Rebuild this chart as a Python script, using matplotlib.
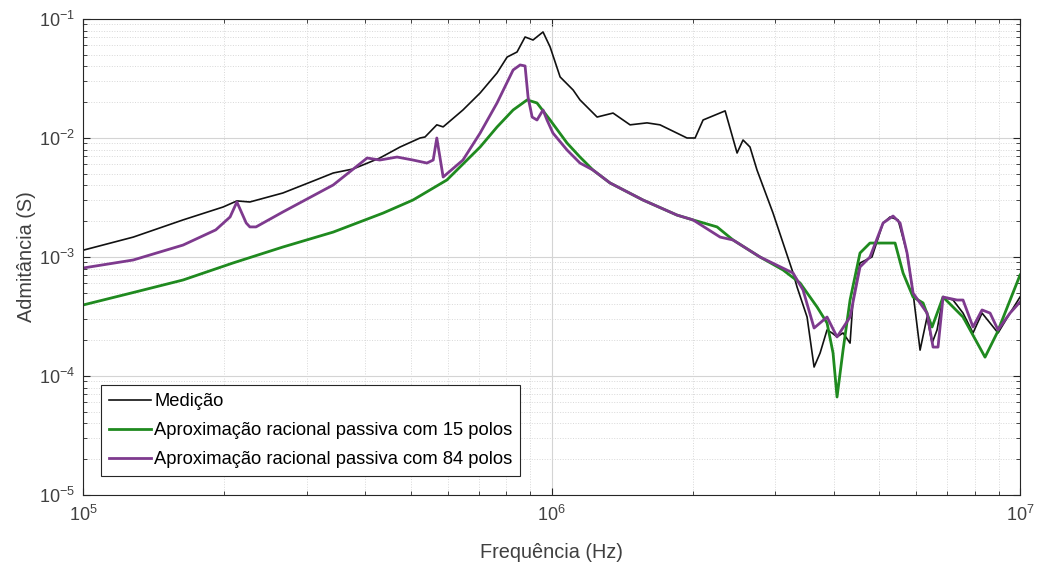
import matplotlib
matplotlib.use("Agg")
import matplotlib.pyplot as plt
from matplotlib.ticker import LogLocator, NullFormatter

plt.rcParams['font.family'] = ['Liberation Sans', 'DejaVu Sans']
plt.rcParams['mathtext.fontset'] = 'custom'
plt.rcParams['mathtext.rm'] = 'Liberation Sans'

# Measured admittance
freq_med = [1.00e5, 1.28e5, 1.635e5, 1.99e5, 2.13e5, 2.27e5, 2.67e5, 3.14e5, 3.42e5, 3.77e5,
            4.30e5, 4.75e5, 5.24e5, 5.37e5, 5.69e5, 5.87e5, 6.47e5, 7.04e5, 7.65e5, 8.04e5,
            8.44e5, 8.78e5, 9.13e5, 9.59e5, 9.93e5, 1.043e6, 1.112e6, 1.150e6, 1.251e6, 1.353e6,
            1.471e6, 1.599e6, 1.704e6, 1.946e6, 2.025e6, 2.106e6, 2.347e6, 2.489e6, 2.563e6, 2.652e6,
            2.745e6, 2.970e6, 3.278e6, 3.342e6, 3.511e6, 3.634e6, 3.743e6, 3.873e6, 3.969e6, 4.068e6,
            4.190e6, 4.337e6, 4.401e6, 4.554e6, 4.830e6, 5.101e6, 5.279e6, 5.491e6, 5.739e6, 5.911e6,
            6.118e6, 6.332e6, 6.490e6, 6.651e6, 6.850e6, 7.194e6, 7.556e6, 7.937e6, 8.296e6, 8.975e6,
            9.52e6, 1.0e7]
adm_med = [1.14e-3, 1.47e-3, 2.05e-3, 2.63e-3, 2.96e-3, 2.90e-3, 3.45e-3, 4.44e-3, 5.08e-3, 5.49e-3,
           6.79e-3, 8.40e-3, 0.0100, 0.0102, 0.0129, 0.0124, 0.0172, 0.0239, 0.0352, 0.0479,
           0.0528, 0.0706, 0.0666, 0.0778, 0.0582, 0.0326, 0.0253, 0.0209, 0.0150, 0.0162,
           0.0129, 0.0134, 0.0129, 0.0100, 0.0100, 0.01417, 0.0169, 0.00748, 0.00962, 0.0084,
           0.00538, 0.00234, 7.33e-4, 5.60e-4, 3.13e-4, 1.19e-4, 1.56e-4, 2.44e-4, 2.30e-4, 2.13e-4,
           2.30e-4, 1.89e-4, 4.35e-4, 8.91e-4, 1.00e-3, 1.93e-3, 2.17e-3, 2.05e-3, 1.08e-3, 4.98e-4,
           1.65e-4, 3.13e-4, 1.89e-4, 2.44e-4, 4.61e-4, 4.35e-4, 3.38e-4, 2.30e-4, 3.38e-4, 2.30e-4,
           3.38e-4, 4.61e-4]

# Passive rational fit, 15 poles
freq_15 = [1.00e5, 1.28e5, 1.635e5, 2.09e5, 2.67e5, 3.42e5, 4.37e5, 5.06e5, 5.98e5, 7.04e5,
           7.65e5, 8.28e5, 8.87e5, 9.31e5, 9.93e5, 1.079e6, 1.150e6, 1.226e6, 1.333e6, 1.568e6,
           1.853e6, 2.004e6, 2.256e6, 2.440e6, 2.786e6, 3.120e6, 3.392e6, 3.688e6, 3.873e6, 3.989e6,
           4.068e6, 4.190e6, 4.337e6, 4.554e6, 4.783e6, 5.101e6, 5.411e6, 5.628e6, 5.911e6, 6.209e6,
           6.490e6, 6.850e6, 7.556e6, 8.419e6, 8.932e6, 1.0e7]
adm_15 = [3.95e-4, 5.03e-4, 6.41e-4, 8.91e-4, 1.213e-3, 1.62e-3, 2.34e-3, 3.01e-3, 4.44e-3, 8.40e-3,
          0.01237, 0.0172, 0.0209, 0.0197, 0.01416, 9.08e-3, 6.92e-3, 5.38e-3, 4.19e-3, 3.01e-3,
          2.25e-3, 2.05e-3, 1.79e-3, 1.39e-3, 1.00e-3, 7.78e-4, 6.05e-4, 3.80e-4, 2.79e-4, 1.56e-4,
          6.66e-5, 1.65e-4, 4.35e-4, 1.08e-3, 1.31e-3, 1.31e-3, 1.31e-3, 7.33e-4, 4.61e-4, 4.11e-4,
          2.58e-4, 4.61e-4, 3.13e-4, 1.44e-4, 2.30e-4, 7.06e-4]

# Passive rational fit, 84 poles
freq_84 = [1.00e5, 1.28e5, 1.635e5, 1.92e5, 2.06e5, 2.13e5, 2.23e5, 2.27e5, 2.34e5, 2.67e5,
           3.42e5, 4.04e5, 4.30e5, 4.68e5, 5.06e5, 5.42e5, 5.59e5, 5.69e5, 5.87e5, 6.47e5,
           7.04e5, 7.65e5, 8.28e5, 8.57e5, 8.78e5, 8.91e5, 9.09e5, 9.31e5, 9.59e5, 9.78e5,
           1.007e6, 1.079e6, 1.150e6, 1.226e6, 1.333e6, 1.568e6, 1.853e6, 2.004e6, 2.290e6, 2.440e6,
           2.786e6, 3.278e6, 3.442e6, 3.634e6, 3.873e6, 4.068e6, 4.337e6, 4.554e6, 4.783e6, 5.101e6,
           5.357e6, 5.546e6, 5.739e6, 5.911e6, 6.332e6, 6.521e6, 6.683e6, 6.850e6, 7.337e6, 7.556e6,
           7.937e6, 8.296e6, 8.630e6, 8.975e6, 9.52e6, 1.0e7]
adm_84 = [8.08e-4, 9.44e-4, 1.26e-3, 1.69e-3, 2.17e-3, 2.90e-3, 1.93e-3, 1.79e-3, 1.79e-3, 2.39e-3,
          4.03e-3, 6.79e-3, 6.53e-3, 6.92e-3, 6.53e-3, 6.16e-3, 6.53e-3, 0.0100, 4.70e-3, 6.53e-3,
          0.0110, 0.0197, 0.0373, 0.0411, 0.0403, 0.0221, 0.0150, 0.01416, 0.0172, 0.01416,
          0.0110, 7.93e-3, 6.16e-3, 5.38e-3, 4.19e-3, 3.01e-3, 2.25e-3, 2.05e-3, 1.47e-3, 1.39e-3,
          1.00e-3, 7.33e-4, 5.28e-4, 2.53e-4, 3.13e-4, 2.13e-4, 3.13e-4, 8.24e-4, 1.00e-3, 1.93e-3,
          2.21e-3, 1.93e-3, 1.08e-3, 4.98e-4, 3.38e-4, 1.75e-4, 1.75e-4, 4.61e-4, 4.35e-4, 4.35e-4,
          2.58e-4, 3.59e-4, 3.38e-4, 2.44e-4, 3.38e-4, 4.19e-4]

labels = ['Medição',
          'Aproximação racional passiva com 15 polos',
          'Aproximação racional passiva com 84 polos']

fig = plt.figure(figsize=(10.38, 5.62), dpi=100)
ax = fig.add_axes([0.080, 0.1192, 0.9027, 0.847])

ax.plot(freq_med, adm_med, color='#111111', lw=1.2, label=labels[0])
ax.plot(freq_15, adm_15, color='#1f8a1f', lw=2.0, label=labels[1])
ax.plot(freq_84, adm_84, color='#7e3a8e', lw=2.0, label=labels[2])

ax.set_xscale('log')
ax.set_yscale('log')
ax.set_xlim(1e5, 1e7)
ax.set_ylim(1e-5, 1e-1)

ax.xaxis.set_major_locator(LogLocator(base=10, numticks=10))
ax.yaxis.set_major_locator(LogLocator(base=10, numticks=10))
ax.xaxis.set_minor_locator(LogLocator(base=10, subs=range(2, 10), numticks=20))
ax.yaxis.set_minor_locator(LogLocator(base=10, subs=range(2, 10), numticks=20))
ax.xaxis.set_minor_formatter(NullFormatter())
ax.yaxis.set_minor_formatter(NullFormatter())

ax.grid(True, which='major', color='#d4d4d4', lw=0.8, ls='-')
ax.grid(True, which='minor', color='#d8d8d8', lw=0.7, ls=':')
ax.set_axisbelow(True)

ax.tick_params(which='both', direction='in', top=True, right=True, colors='#262626',
               labelcolor='#404040')
ax.tick_params(which='major', length=5, labelsize=13)
ax.tick_params(axis='x', which='major', pad=7)
ax.tick_params(axis='y', which='major', pad=6)
ax.tick_params(which='minor', length=3)
for s in ax.spines.values():
    s.set_color('#262626')
    s.set_linewidth(0.8)

ax.set_xlabel('Frequência (Hz)', fontsize=14.3, color='#404040', labelpad=13)
ax.set_ylabel('Admitância (S)', fontsize=14.3, color='#404040', labelpad=2)

leg = ax.legend(loc='lower left', bbox_to_anchor=(0.019, 0.04), borderaxespad=0,
                fontsize=13.2, handlelength=2.3, handletextpad=0.2, labelspacing=0.66,
                borderpad=0.42, fancybox=False, framealpha=1, edgecolor='#262626')
leg.get_frame().set_linewidth(0.8)

fig.savefig('out.png', dpi=100)
